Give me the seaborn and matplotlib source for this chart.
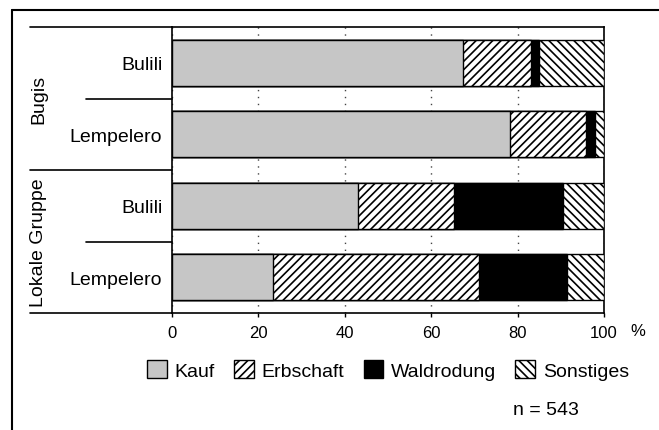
import numpy as np
import pandas as pd
import matplotlib
matplotlib.use('Agg')
import matplotlib.pyplot as plt
import matplotlib.patches as mpatches
import matplotlib.transforms as mtransforms
from matplotlib.lines import Line2D
import seaborn as sns

# Daten (Anteile in %)
ORTE = ['Bulili', 'Lempelero', 'Bulili', 'Lempelero']
GRUPPEN = ['Bugis', 'Lokale Gruppe']
KATEGORIEN = ['Kauf', 'Erbschaft', 'Waldrodung', 'Sonstiges']
kauf = [67.4, 78.2, 43.1, 23.3]
erbschaft = [15.7, 17.6, 22.2, 47.8]
waldrodung = [1.9, 2.2, 25.2, 20.3]
sonstiges = [15.0, 2.0, 9.5, 8.6]
XTICKS = [0, 20, 40, 60, 80, 100]
N_TEXT = 'n = 543'

FARBEN = {'Kauf': '#c6c6c6', 'Erbschaft': 'white', 'Waldrodung': 'black', 'Sonstiges': 'white'}
HATCH = {'Kauf': None, 'Erbschaft': '////', 'Waldrodung': None, 'Sonstiges': '\\\\\\\\'}

FS = 14
FS_TICK = 12

sns.set_style('white')
plt.rcParams['font.family'] = ['Liberation Sans', 'DejaVu Sans']
plt.rcParams['hatch.linewidth'] = 1.2
plt.rcParams['hatch.color'] = 'black'
plt.rcParams['text.color'] = 'black'
plt.rcParams['xtick.color'] = 'black'
plt.rcParams['ytick.color'] = 'black'

keys = ['B1', 'B2', 'L1', 'L2']
df = pd.DataFrame({'key': keys, 'Kauf': kauf, 'Erbschaft': erbschaft,
                   'Waldrodung': waldrodung, 'Sonstiges': sonstiges})
cum = df[KATEGORIEN].cumsum(axis=1)

fig = plt.figure(figsize=(6.59, 4.31), dpi=100)
ax = fig.add_axes([172 / 659, 1 - 314 / 431, 432 / 659, 286 / 431])

# gestapelt: von hinten (größte Summe) nach vorne zeichnen
for kat in reversed(KATEGORIEN):
    sns.barplot(x=cum[kat], y=df['key'], orient='h', ax=ax, width=0.65,
                color=FARBEN[kat], edgecolor='black', linewidth=1.0,
                hatch=HATCH[kat], saturation=1, zorder=3)

ax.set_xlim(0, 100)
ax.set_ylim(3.5, -0.5)
ax.set_xticks(XTICKS)
ax.set_xticklabels([str(t) for t in XTICKS], fontsize=FS_TICK)
ax.set_yticks(range(4))
ax.set_yticklabels(ORTE, fontsize=FS)
ax.set_xlabel('')
ax.set_ylabel('')
ax.tick_params(axis='y', length=0, pad=7)
ax.tick_params(axis='x', length=3, width=1, direction='out', pad=6, bottom=True)
ax.grid(axis='x', linestyle=(0, (1, 4)), color='#444444', linewidth=1.0)
ax.grid(axis='y', visible=False)
ax.set_axisbelow(True)
for sp in ax.spines.values():
    sp.set_visible(True)
    sp.set_linewidth(1.2)
    sp.set_color('black')

# Trennlinien links der Achse
trans = mtransforms.blended_transform_factory(ax.transAxes, ax.transData)
for y, x0 in [(-0.5, -0.329), (0.5, -0.199), (1.5, -0.329), (2.5, -0.199), (3.5, -0.329)]:
    ax.add_line(Line2D([x0, 0], [y, y], transform=trans, color='black',
                       linewidth=1.2, clip_on=False))

# Gruppenbeschriftung
ax.text(-0.308, 0.5, GRUPPEN[0], transform=trans, rotation=90, ha='center',
        va='center', fontsize=FS)
ax.text(-0.308, 2.5, GRUPPEN[1], transform=trans, rotation=90, ha='center',
        va='center', fontsize=FS)

fig.text(638 / 659, 1 - 332 / 431, '%', fontsize=FS_TICK, ha='center', va='center')

# Legende
handles = [mpatches.Patch(facecolor=FARBEN[k], edgecolor='black', hatch=HATCH[k],
                          linewidth=1.0, label=k) for k in KATEGORIEN]
fig.legend(handles=handles, loc='center', bbox_to_anchor=(388 / 659, 1 - 371 / 431),
           ncol=4, frameon=False, fontsize=FS, handlelength=1.0, handleheight=1.0,
           handletextpad=0.4, columnspacing=1.0, borderpad=0)

fig.text(513 / 659, 1 - 411 / 431, N_TEXT, fontsize=FS, ha='left', va='center')

# äußerer Rahmen
fig.add_artist(Line2D([12 / 659, 1.0], [1 - 11 / 431, 1 - 11 / 431],
                      transform=fig.transFigure, color='black', linewidth=1.5))
fig.add_artist(Line2D([12 / 659, 12 / 659], [0, 1 - 11 / 431],
                      transform=fig.transFigure, color='black', linewidth=1.5))

fig.savefig('out.png', dpi=100)
plt.close(fig)
